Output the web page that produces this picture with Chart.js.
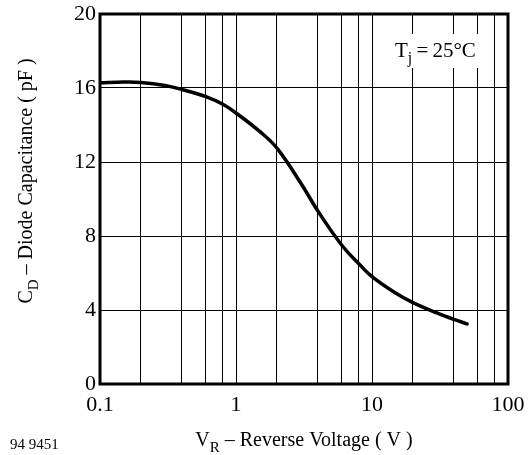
<!DOCTYPE html>
<html>
<head>
<meta charset="utf-8">
<script src="https://cdn.jsdelivr.net/npm/chart.js@4.4.1/dist/chart.umd.min.js"></script>
<style>
  html, body { margin: 0; padding: 0; background: #fff; }
  #wrap { width: 528px; height: 455px; position: relative; }
</style>
</head>
<body>
<div id="wrap"><canvas id="chart"></canvas></div>
<script>
// Diode capacitance vs reverse voltage
const voltage = [0.1, 0.15, 0.2, 0.3, 0.4, 0.6, 0.8, 1, 1.5, 2, 3, 4, 6, 8, 10, 15, 20, 30, 40, 50];
const capacitance = [16.28, 16.32, 16.3, 16.14, 15.92, 15.53, 15.12, 14.65, 13.64, 12.75, 10.85, 9.35, 7.5, 6.5, 5.8, 4.9, 4.4, 3.84, 3.49, 3.25];

const xGrid = [0.1, 0.2, 0.4, 0.6, 0.8, 1, 2, 4, 6, 8, 10, 20, 40, 60, 80, 100];
const xTickLabels = [0.1, 1, 10, 100];
const yTicks = [0, 4, 8, 12, 16, 20];

const serif = "'Liberation Serif', 'DejaVu Serif', serif";

// text with a subscript, drawn left to right from x
function drawSub(ctx, x, y, parts, size) {
  let cx = x;
  parts.forEach(p => {
    const s = p.sub ? size * 0.75 : size;
    ctx.font = s + 'px ' + serif;
    ctx.fillText(p.t, cx, p.sub ? y + size * 0.28 : y);
    cx += ctx.measureText(p.t).width;
  });
  return cx - x;
}
function measureSub(ctx, parts, size) {
  let w = 0;
  parts.forEach(p => {
    ctx.font = (p.sub ? size * 0.75 : size) + 'px ' + serif;
    w += ctx.measureText(p.t).width;
  });
  return w;
}

const labelsPlugin = {
  id: 'labels',
  afterDraw(chart) {
    const { ctx, chartArea: a } = chart;
    ctx.save();
    ctx.fillStyle = '#000';
    ctx.textBaseline = 'alphabetic';

    // frame
    ctx.strokeStyle = '#000';
    ctx.lineWidth = 3;
    ctx.strokeRect(a.left, a.top, a.right - a.left, a.bottom - a.top);

    // Tj label with white box
    const tj = [{ t: 'T' }, { t: 'j', sub: true }, { t: '\u2009=\u200925°C' }];
    const tw = measureSub(ctx, tj, 21);
    ctx.fillStyle = '#fff';
    ctx.fillRect(391, 34, tw + 9, 34);
    ctx.fillStyle = '#000';
    drawSub(ctx, 395, 57, tj, 21);

    // x title
    const xt = [{ t: 'V' }, { t: 'R', sub: true }, { t: ' – Reverse Voltage ( V )' }];
    const xw = measureSub(ctx, xt, 20);
    drawSub(ctx, (a.left + a.right) / 2 - xw / 2, 446, xt, 20);

    // y title, rotated
    const yt = [{ t: 'C' }, { t: 'D', sub: true }, { t: ' – Diode Capacitance ( pF )' }];
    const yw = measureSub(ctx, yt, 20);
    ctx.translate(32, 181);
    ctx.rotate(-Math.PI / 2);
    drawSub(ctx, -yw / 2, 0, yt, 20);
    ctx.restore();

    // figure number
    ctx.save();
    ctx.font = '15px ' + serif;
    ctx.fillStyle = '#000';
    ctx.fillText('94 9451', 10, 449);
    ctx.restore();
  }
};

new Chart(document.getElementById('chart'), {
  type: 'line',
  data: {
    datasets: [{
      data: voltage.map((v, i) => ({ x: v, y: capacitance[i] })),
      borderColor: '#000',
      borderWidth: 3.5,
      borderCapStyle: 'round',
      pointRadius: 0,
      tension: 0.4,
      fill: false,
    }],
  },
  options: {
    responsive: true,
    maintainAspectRatio: false,
    animation: false,
    layout: { padding: { top: 14, right: 20, left: 0, bottom: 0 } },
    plugins: { legend: { display: false }, tooltip: { enabled: false } },
    scales: {
      x: {
        type: 'logarithmic',
        min: 0.1,
        max: 100,
        afterBuildTicks: s => { s.ticks = xGrid.map(v => ({ value: v })); },
        afterFit: s => { s.height = 71; s.paddingLeft = 0; s.paddingRight = 0; },
        grid: { color: '#000', lineWidth: 1, drawTicks: false },
        border: { display: false },
        ticks: {
          autoSkip: false,
          maxRotation: 0,
          padding: 8,
          color: '#000',
          font: { family: serif, size: 22 },
          callback: v => xTickLabels.includes(v) ? String(v) : '',
        },
      },
      y: {
        min: 0,
        max: 20,
        afterBuildTicks: s => { s.ticks = yTicks.map(v => ({ value: v })); },
        afterFit: s => { s.width = 100; s.paddingTop = 0; s.paddingBottom = 0; },
        grid: { color: '#000', lineWidth: 1, drawTicks: false },
        border: { display: false },
        ticks: {
          padding: 4,
          color: '#000',
          font: { family: serif, size: 22 },
        },
      },
    },
  },
  plugins: [labelsPlugin],
});
</script>
</body>
</html>
